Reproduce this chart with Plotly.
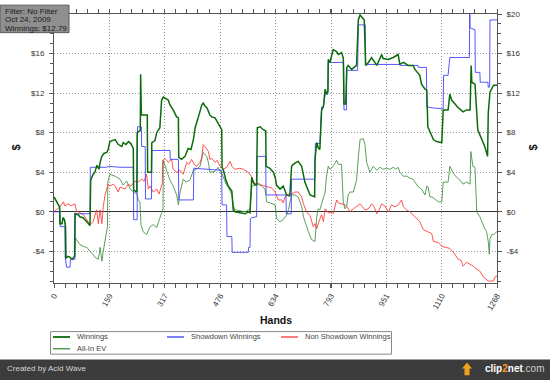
import plotly.graph_objects as go

# ---------------- data (hands, dollars) ----------------
hands_w = [0, 9, 16, 17, 23, 26, 30, 33, 34, 40,
           46, 52, 59, 60, 69, 74, 83, 94, 103, 105,
           112, 117, 123, 129, 132, 137, 143, 151, 155, 160,
           175, 184, 194, 198, 206, 213, 220, 227, 228, 237,
           238, 247, 248, 250, 267, 268, 279, 280, 289, 294,
           303, 308, 313, 318, 327, 332, 341, 351, 356, 357,
           365, 375, 384, 392, 399, 404, 409, 415, 423, 427,
           432, 438, 446, 451, 461, 469, 475, 480, 481, 485,
           492, 499, 509, 512, 513, 518, 532, 547, 556, 561,
           566, 570, 575, 580, 581, 582, 590, 599, 606, 607,
           618, 628, 633, 637, 647, 656, 666, 675, 680, 685,
           693, 699, 709, 714, 718, 733, 742, 746, 747, 752,
           756, 761, 766, 771, 776, 780, 784, 785, 790, 799,
           809, 814, 823, 828, 830, 835, 838, 842, 852, 866,
           871, 876, 881, 888, 892, 900, 909, 919, 924, 938,
           942, 957, 971, 985, 990, 1000, 1014, 1028, 1033, 1047,
           1052, 1062, 1067, 1070, 1081, 1086, 1095, 1110, 1114, 1128,
           1133, 1138, 1148, 1155, 1171, 1181, 1191, 1194, 1196, 1205,
           1213, 1224, 1233, 1241, 1243, 1248, 1258, 1268]
winnings = [1.5, 1.0, 0.5, -1.2, -1.2, -0.6, -0.8, -1.5, -4.7, -4.5,
            -4.6, -4.8, -4.5, -0.2, -0.3, -0.5, -0.6, -1.0, -1.4, 3.2,
            3.8, 4.0, 4.7, 4.3, 5.0, 5.6, 5.9, 6.0, 6.3, 7.1,
            7.3, 6.8, 6.6, 7.0, 6.8, 7.1, 6.9, 6.4, 2.2, 2.0,
            8.0, 8.2, 13.9, 9.8, 9.8, 4.0, 4.0, 7.0, 7.2, 8.0,
            8.5, 11.3, 11.6, 11.5, 11.3, 10.8, 10.3, 9.6, 9.5, 5.5,
            5.3, 5.6, 6.4, 6.3, 7.3, 8.5, 9.2, 9.8, 10.8, 11.0,
            10.7, 10.5, 9.8, 9.6, 9.5, 9.0, 8.6, 8.3, 4.5, 4.2,
            3.2, 2.6, 2.1, 1.0, 0.2, 0.0, -0.1, -0.2, 0.0, -0.1,
            3.5, 3.0, 2.7, 2.7, 6.0, 8.5, 8.6, 8.3, 8.2, 4.6,
            4.4, 4.0, 3.5, 2.7, 2.3, 2.6, 1.7, 1.6, 4.6, 4.8,
            5.0, 5.1, 4.6, 3.5, 3.0, 1.7, 1.5, 1.5, 5.3, 7.0,
            6.5, 6.3, 10.3, 10.6, 12.4, 11.9, 12.2, 15.4, 15.1, 16.4,
            16.2, 15.9, 16.1, 15.6, 10.9, 10.9, 14.6, 14.8, 14.4, 14.8,
            19.4, 19.9, 19.7, 19.4, 14.8, 15.1, 15.6, 15.1, 14.8, 15.9,
            15.5, 15.4, 15.6, 15.9, 14.9, 15.1, 14.8, 14.8, 14.4, 13.8,
            12.9, 12.4, 12.3, 8.6, 7.8, 7.3, 7.1, 7.0, 10.3, 10.3,
            11.9, 11.3, 10.9, 10.6, 10.1, 10.3, 10.3, 14.8, 13.1, 12.9,
            8.3, 7.3, 6.6, 5.6, 10.0, 12.1, 12.8, 12.79]

hands_sd = [0, 17, 18, 31, 32, 36, 46, 47, 60, 61,
            103, 104, 151, 155, 189, 227, 228, 238, 239, 250,
            251, 261, 262, 279, 280, 332, 333, 356, 357, 399,
            400, 480, 481, 494, 495, 509, 510, 556, 557, 561,
            562, 566, 580, 581, 606, 607, 664, 665, 679, 680,
            747, 748, 761, 766, 771, 776, 784, 785, 829, 830,
            837, 838, 869, 871, 891, 892, 990, 991, 1042, 1043,
            1066, 1067, 1085, 1114, 1115, 1128, 1133, 1189, 1190, 1191,
            1205, 1206, 1219, 1220, 1242, 1243, 1247, 1248, 1268]
showdown = [0, 0, -1.5, -1.5, -4.6, -5.6, -5.6, -4.8, -4.8, -0.2,
            -0.2, 4.5, 4.5, 4.6, 4.5, 4.5, -0.8, -0.8, 8.6, 8.6,
            6.6, 6.6, 1.3, 1.3, 6.2, 6.2, 5.3, 5.3, 1.2, 1.2,
            4.4, 4.2, 0.7, 0.7, -2.5, -2.5, -4.1, -4.1, -3.6, -3.6,
            -0.7, -0.6, -0.5, 5.6, 5.6, 1.7, 1.7, -0.2, -0.2, 3.3,
            3.3, 6.9, 6.9, 10.6, 10.6, 11.9, 11.9, 15.1, 15.1, 10.3,
            10.3, 14.3, 14.3, 18.9, 18.9, 14.9, 14.9, 14.8, 14.8, 14.6,
            14.6, 10.6, 10.5, 10.4, 13.8, 13.8, 15.6, 15.6, 21.5, 18.6,
            18.4, 14.1, 14.1, 13.1, 13.1, 12.6, 12.6, 19.4, 19.4]

hands_nsd = [0, 6, 11, 17, 27, 31, 41, 49, 60, 65,
             70, 84, 94, 103, 112, 122, 127, 132, 137, 141,
             146, 151, 155, 160, 170, 175, 184, 189, 203, 213,
             220, 232, 241, 251, 258, 265, 270, 275, 284, 294,
             301, 308, 310, 311, 318, 327, 337, 341, 351, 361,
             370, 380, 386, 394, 401, 408, 418, 423, 427, 432,
             442, 446, 452, 461, 467, 475, 485, 494, 504, 509,
             518, 532, 542, 556, 566, 575, 584, 594, 604, 612,
             623, 633, 642, 652, 656, 661, 671, 680, 690, 699,
             709, 714, 723, 733, 742, 747, 752, 756, 761, 766,
             771, 776, 785, 795, 799, 809, 814, 823, 833, 841,
             847, 857, 864, 876, 881, 890, 900, 909, 916, 924,
             928, 938, 947, 957, 966, 976, 985, 995, 1000, 1009,
             1019, 1028, 1038, 1047, 1057, 1067, 1081, 1086, 1100, 1110,
             1124, 1133, 1143, 1152, 1157, 1165, 1171, 1181, 1191, 1200,
             1210, 1219, 1229, 1243, 1258, 1262, 1268]
non_showdown = [0, 0.2, 0.3, 0.5, 1.0, 0.6, 0.8, 0.6, 0.8, 0.0,
                0.0, -0.3, -0.8, -1.3, -1.0, 0.2, -1.2, 0.2, -1.2, 0.5,
                1.7, 2.2, 2.8, 2.6, 2.8, 2.6, 2.0, 2.5, 2.3, 2.8,
                2.6, 3.1, 3.0, 3.3, 3.1, 3.8, 2.3, 2.6, 2.0, 2.3,
                1.8, 2.7, 2.8, 5.2, 5.4, 5.0, 5.3, 4.3, 4.0, 4.2,
                3.8, 5.0, 4.8, 5.3, 4.8, 4.6, 5.0, 5.5, 6.8, 6.6,
                6.1, 5.3, 5.4, 5.0, 5.2, 4.6, 4.3, 4.5, 5.1, 4.6,
                4.3, 4.4, 4.3, 4.0, 3.5, 2.8, 2.9, 2.7, 2.6, 2.5,
                2.4, 2.0, 1.2, 1.2, 0.9, 1.5, 1.8, 1.8, 2.0, 2.0,
                1.5, 0.8, 0.0, -0.4, -1.5, -1.2, -1.7, -1.2, -0.8, -0.3,
                -1.0, 0.3, -0.1, -0.1, -0.2, 1.2, 0.9, 0.8, 0.7, 0.4,
                0.0, 0.3, 0.5, 0.8, 0.6, 0.2, 0.3, 0.8, 0.5, -0.2,
                0.0, 0.8, 0.6, 0.0, 0.7, 0.5, 0.7, 1.2, 0.5, 0.2,
                0.0, -0.3, -0.7, -1.0, -1.8, -2.0, -2.2, -3.0, -3.1, -3.5,
                -3.6, -3.7, -4.1, -4.5, -4.8, -4.9, -5.5, -5.1, -5.3, -5.5,
                -5.8, -6.0, -6.6, -7.0, -7.0, -6.6, -6.5]

hands_ev = [0, 9, 16, 17, 23, 26, 30, 33, 34, 40,
            46, 52, 59, 60, 69, 74, 84, 94, 103, 112,
            117, 127, 132, 137, 141, 146, 151, 153, 154, 160,
            175, 189, 198, 208, 218, 227, 237, 241, 246, 249,
            255, 265, 275, 284, 294, 303, 308, 312, 313, 324,
            332, 341, 351, 356, 361, 370, 378, 389, 399, 408,
            418, 427, 437, 442, 446, 461, 470, 475, 481, 494,
            499, 509, 513, 518, 532, 547, 556, 561, 566, 575,
            584, 594, 604, 609, 618, 633, 637, 647, 656, 666,
            671, 675, 680, 690, 699, 704, 709, 714, 718, 728,
            737, 747, 752, 756, 761, 771, 776, 780, 785, 790,
            795, 799, 809, 814, 823, 828, 833, 838, 842, 847,
            857, 866, 871, 876, 885, 890, 895, 904, 914, 924,
            933, 942, 952, 962, 971, 979, 985, 990, 1000, 1009,
            1019, 1027, 1033, 1043, 1052, 1062, 1067, 1071, 1076, 1081,
            1090, 1100, 1110, 1114, 1128, 1133, 1143, 1152, 1162, 1171,
            1181, 1191, 1193, 1199, 1205, 1210, 1219, 1224, 1233, 1238,
            1243, 1246, 1248, 1253, 1258, 1268]
allin_ev = [1.5, 1.0, 0.5, -1.2, -1.2, -0.6, -0.8, -1.5, -4.7, -4.5,
            -4.6, -4.8, -4.5, -2.6, -3.0, -3.3, -3.5, -3.6, -4.0, -4.3,
            -4.6, -4.8, -3.6, -5.0, -4.0, -3.0, -2.0, -1.5, 3.0, 3.8,
            3.6, 3.3, 2.7, 3.1, 2.3, 2.0, 1.8, 1.2, 1.0, -1.3,
            -2.0, -2.3, -1.5, -1.3, -1.6, -0.5, -0.1, 0.3, 5.2, 4.0,
            3.2, 2.6, 1.7, 0.7, 2.0, 3.3, 3.0, 3.2, 4.2, 4.3,
            4.6, 6.0, 5.6, 5.0, 4.0, 4.1, 4.5, 4.1, 3.8, 2.7,
            2.5, 1.7, 0.7, 0.2, 0.1, 0.0, 0.2, 0.2, 2.5, 2.8,
            2.8, 2.6, 2.3, 1.0, 0.9, 0.7, -0.7, -1.0, -0.8, -0.3,
            0.2, 1.0, 1.7, 1.7, 1.5, 1.0, 0.5, -0.5, -1.0, -2.0,
            -2.8, -3.0, -0.5, 0.3, 0.2, 1.3, 2.0, 3.6, 4.6, 4.3,
            4.5, 4.6, 5.2, 4.8, 4.8, 1.0, 0.3, 0.6, 1.7, 2.0,
            2.0, 3.2, 5.5, 7.3, 7.4, 6.8, 5.0, 4.0, 4.6, 4.2,
            4.5, 4.3, 4.4, 4.3, 4.5, 4.3, 4.5, 4.0, 3.6, 3.6,
            3.4, 3.3, 3.0, 2.5, 2.3, 1.7, 2.6, 2.5, 1.5, 1.5,
            1.3, 1.0, 1.0, 3.0, 3.0, 4.6, 3.9, 3.5, 3.2, 2.8,
            3.0, 2.8, 6.1, 4.6, 4.5, 0.0, -0.5, -1.0, -1.7, -2.0,
            -3.0, -4.3, -2.7, -2.3, -2.3, -2.0]

x_ticks = [0, 159, 317, 476, 634, 793, 951, 1110, 1268]
y_ticks = [-4, 0, 4, 8, 12, 16, 20]
y_tick_labels = ["-$4", "$0", "$4", "$8", "$12", "$16", "$20"]

series_names = ["Winnings", "Showdown Winnings", "Non Showdown Winnings", "All-In EV"]
series_colors = ["#0b6b0b", "#3a3aff", "#ff3535", "#3e8e3e"]
series_widths = [1.5, 1.0, 1.0, 1.0]

assert len(hands_w) == len(winnings)
assert len(hands_sd) == len(showdown)
assert len(hands_nsd) == len(non_showdown)
assert len(hands_ev) == len(allin_ev)

FONT = "Liberation Sans, Arial, sans-serif"
Y_RANGE = [-7.2, 20]
GRID_DASH = "1px,2px"

fig = go.Figure()
fig.add_trace(go.Scatter(x=hands_ev, y=allin_ev, mode="lines", name=series_names[3],
                         line=dict(color=series_colors[3], width=series_widths[3]), opacity=0.85))
fig.add_trace(go.Scatter(x=hands_nsd, y=non_showdown, mode="lines", name=series_names[2],
                         line=dict(color=series_colors[2], width=series_widths[2]), opacity=0.85))
fig.add_trace(go.Scatter(x=hands_sd, y=showdown, mode="lines", name=series_names[1],
                         line=dict(color=series_colors[1], width=series_widths[1]), opacity=0.85))
fig.add_trace(go.Scatter(x=hands_w, y=winnings, mode="lines", name=series_names[0],
                         line=dict(color=series_colors[0], width=series_widths[0])))
# invisible trace to activate the right-hand axis
fig.add_trace(go.Scatter(x=[None], y=[None], yaxis="y2", showlegend=False, hoverinfo="skip"))

axis_col = "#555555"
fig.update_layout(
    width=550, height=380,
    margin=dict(l=54, r=53, t=9, b=97, pad=0),
    paper_bgcolor="white", plot_bgcolor="white",
    font=dict(family=FONT, size=8, color="#333333"),
    showlegend=False,
    hovermode=False,
    xaxis=dict(range=[0, 1268], tickmode="array", tickvals=x_ticks,
               ticktext=[str(v) for v in x_ticks], tickangle=-60,
               tickfont=dict(size=8, color="#333333"),
               showgrid=True, gridcolor="#9a9a9a", griddash=GRID_DASH, gridwidth=1,
               showline=True, linecolor=axis_col, linewidth=1, mirror="allticks",
               ticks="outside", ticklen=4, tickcolor=axis_col, zeroline=False,
               minor=dict(tickmode="linear", tick0=0, dtick=31.7, ticks="outside",
                          ticklen=3, tickcolor=axis_col, showgrid=False)),
    yaxis=dict(range=Y_RANGE, tickmode="array", tickvals=y_ticks[:-1],
               ticktext=y_tick_labels[:-1], tickfont=dict(size=8, color="#333333"),
               showgrid=True, gridcolor="#9a9a9a", griddash=GRID_DASH, gridwidth=1,
               showline=True, linecolor=axis_col, linewidth=1,
               ticks="outside", ticklen=4, tickcolor=axis_col, ticklabelstandoff=3,
               zeroline=True, zerolinecolor="#333333", zerolinewidth=1,
               minor=dict(tickmode="linear", tick0=0, dtick=1, ticks="outside",
                          ticklen=3, tickcolor=axis_col, showgrid=False)),
    yaxis2=dict(range=Y_RANGE, overlaying="y", side="right", tickmode="array",
                tickvals=y_ticks, ticktext=y_tick_labels,
                tickfont=dict(size=8, color="#333333"), showgrid=False,
                showline=True, linecolor=axis_col, linewidth=1,
                ticks="outside", ticklen=4, tickcolor=axis_col, ticklabelstandoff=3,
                zeroline=False,
                minor=dict(tickmode="linear", tick0=0, dtick=1, ticks="outside",
                           ticklen=3, tickcolor=axis_col, showgrid=False)),
)

# helpers to convert pixel positions (for decorations only) into paper coords
PL, PR, PT, PB = 54, 497, 9, 283
def px(xp):
    return (xp - PL) / (PR - PL)
def py(yp):
    return (PB - yp) / (PB - PT)

shapes = []
annotations = []

# axis titles
annotations.append(dict(x=px(275.5), y=py(321), xref="paper", yref="paper", text="<b>Hands</b>",
                        showarrow=False, font=dict(family=FONT, size=10.5, color="#111111"),
                        xanchor="center", yanchor="middle"))
for xp_ in (16, 533):
    annotations.append(dict(x=px(xp_), y=py(145), xref="paper", yref="paper", text="<b>$</b>",
                            showarrow=False, textangle=-90,
                            font=dict(family=FONT, size=11, color="#111111"),
                            xanchor="center", yanchor="middle"))

# legend (drawn manually for exact compact layout)
shapes.append(dict(type="rect", xref="paper", yref="paper", x0=px(50.5), x1=px(391.5),
                   y0=py(332.5), y1=py(355.5), line=dict(color="#888888", width=1),
                   fillcolor="white", layer="above"))
legend_pos = [(53, 338), (167, 338), (281, 338), (53, 350)]
for name, col, w, (lx, ly) in zip(series_names, series_colors, series_widths, legend_pos):
    shapes.append(dict(type="line", xref="paper", yref="paper", x0=px(lx), x1=px(lx + 17),
                       y0=py(ly), y1=py(ly), line=dict(color=col, width=w + 0.3), layer="above"))
    annotations.append(dict(x=px(lx + 22), y=py(ly), xref="paper", yref="paper", text=name,
                            showarrow=False, font=dict(family=FONT, size=7.5, color="#444444"),
                            xanchor="left", yanchor="middle"))

# info box top-left
shapes.append(dict(type="rect", xref="paper", yref="paper", x0=px(0), x1=px(69),
                   y0=py(0), y1=py(28), line=dict(color="#5a5a5a", width=1),
                   fillcolor="#8f8f8f", layer="above"))
for i, t in enumerate(["Filter: No Filter", "Oct 24, 2009", "Winnings: $12.79"]):
    annotations.append(dict(x=px(3), y=py(6.5 + 8.4 * i), xref="paper", yref="paper", text=t,
                            showarrow=False, font=dict(family=FONT, size=8, color="#1a1a1a"),
                            xanchor="left", yanchor="middle"))

# footer bar
shapes.append(dict(type="rect", xref="paper", yref="paper", x0=px(-2), x1=px(552),
                   y0=py(361), y1=py(382), line=dict(width=0), fillcolor="#3c3c3c", layer="above"))
annotations.append(dict(x=px(5), y=py(370.5), xref="paper", yref="paper", text="Created by Acid Wave",
                        showarrow=False, font=dict(family=FONT, size=8, color="#d5d5d5"),
                        xanchor="left", yanchor="middle"))
annotations.append(dict(x=px(546), y=py(370.5), xref="paper", yref="paper",
                        text="<b>clip<span style='color:#ff9a1a'>2</span>net</b><span style='color:#cfcfcf'>.com</span>",
                        showarrow=False, font=dict(family=FONT, size=10, color="#ffffff"),
                        xanchor="right", yanchor="middle"))
# small upload arrow icon next to the logo
shapes.append(dict(type="path", xref="paper", yref="paper",
                   path="M {a},{b} L {c},{d} L {e},{b} L {f},{b} L {f},{g} L {h},{g} L {h},{b} Z".format(
                       a=px(462), b=py(370), c=px(467), d=py(364), e=px(472), f=px(469.5), g=py(377), h=px(464.5)),
                   fillcolor="#f0a020", line=dict(width=0), layer="above"))

fig.update_layout(shapes=shapes, annotations=annotations)

fig.write_html("out.html", config={"displayModeBar": False, "staticPlot": True},
               post_script="document.body.style.margin='0';document.body.style.padding='0';")
